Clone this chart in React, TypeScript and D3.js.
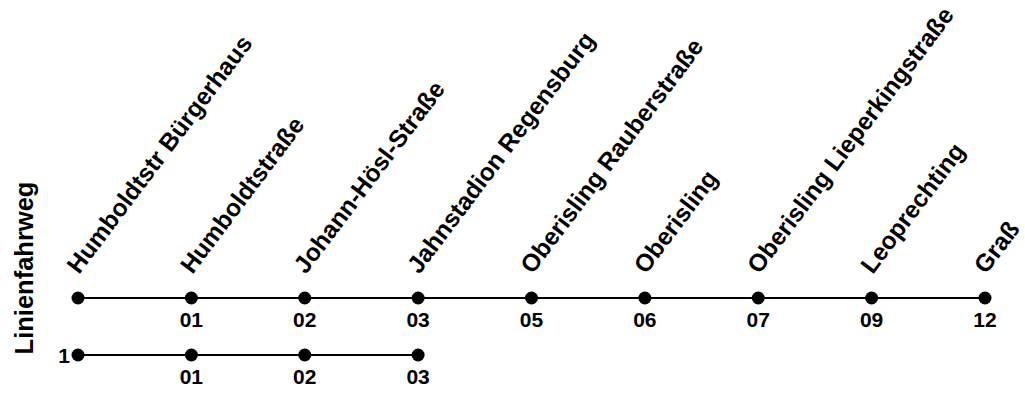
import React from "react";
import * as d3 from "d3";

const stations = [
  "Humboldtstr Bürgerhaus",
  "Humboldtstraße",
  "Johann-Hösl-Straße",
  "Jahnstadion Regensburg",
  "Oberisling Rauberstraße",
  "Oberisling",
  "Oberisling Lieperkingstraße",
  "Leoprechting",
  "Graß",
];
const mainCodes = ["", "01", "02", "03", "05", "06", "07", "09", "12"];
const variantStops = [0, 1, 2, 3];
const variantCodes = ["", "01", "02", "03"];
const variantLabel = "1";
const yTitle = "Linienfahrweg";

const W = 1025;
const H = 395;
const FONT = "'Liberation Sans', Arial, Helvetica, sans-serif";

export default function App() {
  const x = d3
    .scalePoint<number>()
    .domain(stations.map((_, i) => i))
    .range([78, 985]);
  const rows = d3.scalePoint<number>().domain([0, 1]).range([298, 355]);

  const mainY = rows(0)!;
  const varY = rows(1)!;
  const line = d3.line<number>().x((i) => x(i)!).y(() => 0);

  return (
    <svg
      width={W}
      height={H}
      style={{ position: "absolute", left: 0, top: 0 }}
      fontFamily={FONT}
      fontWeight="bold"
    >
      <rect width={W} height={H} fill="#fff" />
      <text
        transform={`translate(33,268) rotate(-90)`}
        textAnchor="middle"
        fontSize={25.5}
        fill="#000"
      >
        {yTitle}
      </text>

      {/* station labels */}
      {stations.map((s, i) => (
        <text
          key={s}
          transform={`translate(${x(i)! + 1},${mainY - 23}) rotate(-53)`}
          fontSize={24.5}
          fill="#000"
        >
          {s}
        </text>
      ))}

      {/* main route */}
      <g transform={`translate(0,${mainY})`}>
        <path
          d={line(stations.map((_, i) => i)) || ""}
          stroke="#000"
          strokeWidth={2}
          fill="none"
        />
        {stations.map((_, i) => (
          <circle key={i} cx={x(i)} cy={0} r={6.5} fill="#000" />
        ))}
        {mainCodes.map((c, i) => (
          <text
            key={i}
            x={x(i)}
            y={29}
            textAnchor="middle"
            fontSize={21}
            fill="#000"
          >
            {c}
          </text>
        ))}
      </g>

      {/* variant route */}
      <g transform={`translate(0,${varY})`}>
        <path
          d={line(variantStops) || ""}
          stroke="#000"
          strokeWidth={2}
          fill="none"
        />
        {variantStops.map((s) => (
          <circle key={s} cx={x(s)} cy={0} r={6.5} fill="#000" />
        ))}
        {variantCodes.map((c, k) => (
          <text
            key={k}
            x={x(variantStops[k])}
            y={29}
            textAnchor="middle"
            fontSize={21}
            fill="#000"
          >
            {c}
          </text>
        ))}
        <text
          x={x(variantStops[0])! - 8}
          y={8}
          textAnchor="end"
          fontSize={21}
          fill="#000"
        >
          {variantLabel}
        </text>
      </g>
    </svg>
  );
}
